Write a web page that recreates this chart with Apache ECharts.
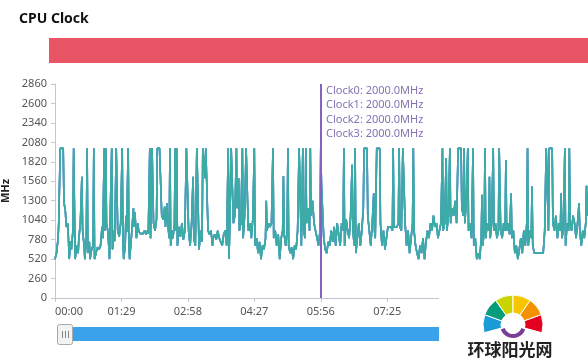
<!DOCTYPE html>
<html>
<head>
<meta charset="utf-8">
<script src="https://cdn.jsdelivr.net/npm/echarts@6/dist/echarts.min.js"></script>
<style>
html,body{margin:0;padding:0;background:#fff;}
#chart{width:588px;height:361px;}
</style>
</head>
<body>
<div id="chart"></div>
<script>
// time in seconds from start
const times = [
0,2,4,5,7,11,12,14,15,17,
18,19,21,22,24,25,27,29,31,32,
34,36,37,39,40,42,43,44,46,47,
49,51,52,53,55,57,59,61,63,64,
66,67,68,69,71,72,73,74,76,77,
79,80,82,84,86,88,90,91,92,94,
95,96,98,99,100,101,103,105,106,107,
109,111,112,114,116,118,120,122,124,125,
127,128,130,131,132,134,136,137,140,142,
143,145,147,148,150,151,153,154,155,157,
158,160,161,162,163,164,166,168,170,172,
174,176,178,179,181,183,185,186,188,190,
192,193,195,197,198,200,201,202,204,205,
207,209,211,212,214,216,218,220,222,224,
226,228,230,232,233,234,236,238,239,241,
243,244,246,247,249,251,252,254,256,258,
259,261,263,265,267,268,270,272,274,276,
278,280,282,283,284,286,288,290,292,293,
295,297,299,301,303,305,306,307,309,311,
312,313,315,317,319,321,323,325,327,329,
330,332,333,335,336,337,339,341,342,343,
345,347,349,351,353,355,356,357,359,360,
362,364,366,368,370,372,374,376,378,380,
382,384,386,387,388,390,392,394,396,398,
399,401,402,403,405,407,409,411,413,414,
416,418,419,421,423,425,427,428,429,431,
433,435,436,438,440,442,444,446,448,450,
452,453,454,456,458,460,461,462,464,466,
468,469,471,473,475,477,479,480,481,483,
485,487,489,491,493,495,497,499,501,503,
505,507,509,511,513,515,517,519,520,522,
524,525,527,529,530,532,534,536,538,540,
542,544,545,547,548,549,551,553,554,556,
558,560,561,563,565,567,569,571,572,573,
575,576,577,579,581,582,583,585,587,588,
590,592,594,595,597,599,601,603,604,605,
607,609,611,612,614,616,618,620,622,624,
626,628,630,632,633,634,636,638,639,640,
642,644,646,648,650,652,654,656,658,660,
661,662,664,666,667,669,671,673,675,677,
678,679,681,683,684,686,688,689,690,692,
694,696,698,700,702,703,705,707,709,711,
712,713
];
// clock frequency in MHz
const clockMHz = [
520,600,780,1000,2000,2000,1280,1150,950,1000,
800,520,760,650,900,2000,520,700,600,800,
1000,1620,900,700,520,800,2000,600,750,520,
650,700,2000,520,600,680,650,700,950,800,
2000,900,2000,1000,880,700,520,1100,2000,650,
900,760,2000,900,820,1000,2000,800,520,700,
1100,880,2000,700,520,650,900,1200,950,1150,
800,1000,900,860,880,860,900,850,900,860,
2000,800,2000,2000,1000,900,1050,2000,2000,2000,
1100,1050,1220,950,1270,1000,800,2000,700,900,
800,1000,2000,900,2000,700,950,820,1000,780,
900,2000,2000,900,700,1000,1620,800,700,2000,
2000,650,900,750,2000,2000,1600,2000,2000,900,
850,900,700,800,850,780,900,800,820,700,
850,900,700,2000,520,900,2000,2000,1000,1100,
2000,1200,1600,900,1000,2000,800,1100,2000,2000,
900,1000,800,1050,2000,700,800,600,750,520,
700,650,800,1300,900,1000,950,1000,2000,800,
900,700,850,520,800,900,1630,850,700,900,
2000,700,600,680,520,700,650,900,2000,2000,
700,2000,900,800,2000,1000,1200,900,2000,1100,
1300,1000,900,800,700,900,2000,1500,1490,800,
650,600,750,700,900,750,950,700,1000,850,
700,1000,900,2000,700,1050,900,800,1100,1780,
900,700,2000,600,800,1000,700,900,1200,2000,
2000,2000,1100,900,700,1000,1400,900,800,2000,
2000,2000,1000,700,900,650,800,950,950,950,
900,2000,950,950,950,1000,2000,950,900,2000,
2000,1000,700,900,600,800,1000,2000,900,700,
600,520,700,600,800,520,750,900,800,1000,
900,1100,950,1000,800,900,1000,2000,900,1000,
1870,900,1100,2000,1000,1200,1100,1300,1000,2000,
2000,2000,1200,1100,2000,1000,1300,2000,900,1000,
800,2000,700,800,520,600,520,800,1380,700,
900,2000,800,1000,900,1620,800,1000,2000,900,
1000,800,900,2000,900,800,1000,900,1840,900,
1000,850,1400,800,900,600,700,520,650,800,
600,900,700,1000,2000,700,900,800,1490,700,
600,600,600,600,600,600,600,900,2000,2000,
900,2000,2000,2000,1000,900,1100,800,1000,900,
1400,800,900,2000,700,1000,900,2000,1000,900,
1100,1000,800,1000,1270,900,700,900,800,1000,
1500,1100
];
const seriesNames = ['Clock0','Clock1','Clock2','Clock3'];
const seriesColors = ['#4b9ad6','#8c6cc7','#47a6c4','#3aaca5'];
const tooltipTime = 356;

const pairs = times.map((t, i) => [t, clockMHz[i]]);
function mmss(v){
  const m = Math.floor(v/60), s = Math.round(v%60);
  return (m<10?'0':'')+m+':'+(s<10?'0':'')+s;
}
const chart = echarts.init(document.getElementById('chart'), null, {renderer:'canvas'});
const labelFont = 'Noto Sans';
const option = {
  animation: false,
  backgroundColor: '#fff',
  title: {
    text: 'CPU Clock', left: 14, top: 7,
    textStyle: {fontFamily: labelFont, fontSize: 14, fontWeight: 'bold', color: '#111'}
  },
  grid: {left: 55, right: 0, top: 84, bottom: 63, containLabel: false, outerBoundsMode: 'none'},
  tooltip: {
    trigger: 'axis',
    alwaysShowContent: true,
    transitionDuration: 0,
    backgroundColor: 'rgba(255,255,255,0.75)',
    borderWidth: 0,
    padding: [2, 3],
    extraCssText: 'box-shadow:none;border-radius:0;line-height:14.3px;',
    textStyle: {fontFamily: labelFont, fontSize: 11, color: '#8672b4'},
    position: function (pt) { return [pt[0] + 2, 81]; },
    axisPointer: {type: 'line', lineStyle: {color: '#8661c1', width: 2, type: 'solid'}},
    formatter: function (params) {
      return params.map(p => p.seriesName + ': ' + p.value[1].toFixed(1) + 'MHz').join('<br/>');
    }
  },
  xAxis: {
    type: 'value', min: 0, max: 714, interval: 89,
    splitLine: {show: false},
    axisLine: {lineStyle: {color: '#c8c2d2'}},
    axisTick: {show: true, length: 4, lineStyle: {color: '#c8c2d2'}},
    axisLabel: {
      formatter: mmss, color: '#555', fontFamily: labelFont, fontSize: 11, margin: 8,
      alignMinLabel: 'left', showMaxLabel: false
    }
  },
  yAxis: {
    type: 'value', min: 0, max: 2860, interval: 260,
    name: 'MHz', nameLocation: 'middle', nameGap: 35,
    nameTextStyle: {fontFamily: labelFont, fontSize: 11, fontWeight: 'bold', color: '#222'},
    splitLine: {show: false},
    axisLine: {show: true, lineStyle: {color: '#c8c2d2'}},
    axisTick: {show: true, length: 4, lineStyle: {color: '#c8c2d2'}},
    axisLabel: {color: '#555', fontFamily: labelFont, fontSize: 11, margin: 8, formatter: v => String(v)}
  },
  dataZoom: [{
    type: 'slider', xAxisIndex: 0, start: 0, end: 100,
    left: 57, right: -20, top: 327, height: 14,
    backgroundColor: 'transparent', borderColor: 'transparent',
    fillerColor: '#3aa2ea',
    dataBackground: {lineStyle: {opacity: 0}, areaStyle: {opacity: 0}},
    selectedDataBackground: {lineStyle: {opacity: 0}, areaStyle: {opacity: 0}},
    handleSize: 0, handleStyle: {opacity: 0},
    moveHandleSize: 0, showDetail: false, brushSelect: false, zoomLock: true
  }],
  series: seriesNames.map((n, i) => ({
    name: n, type: 'line', data: pairs, symbol: 'none', showSymbol: false,
    lineStyle: {width: 1.6, color: seriesColors[i]}, itemStyle: {color: seriesColors[i]},
    emphasis: {disabled: true}
  })),
  graphic: [
    {type: 'rect', left: 49, top: 38, shape: {width: 539, height: 25}, style: {fill: '#ea5566'}, z: 10},
    // slider handle
    {type: 'rect', shape: {x: 57.5, y: 324.5, width: 15, height: 20, r: 2}, style: {fill: '#f2f2f2', stroke: '#a9a9a9', lineWidth: 1}, z: 20},
    {type: 'line', shape: {x1: 62.5, y1: 331, x2: 62.5, y2: 338}, style: {stroke: '#888', lineWidth: 1}, z: 21},
    {type: 'line', shape: {x1: 65.5, y1: 331, x2: 65.5, y2: 338}, style: {stroke: '#888', lineWidth: 1}, z: 21},
    {type: 'line', shape: {x1: 68.5, y1: 331, x2: 68.5, y2: 338}, style: {stroke: '#888', lineWidth: 1}, z: 21},
    // watermark box
    {type: 'rect', shape: {x: 439, y: 280, width: 149, height: 81}, style: {fill: '#fff'}, z: 30},
    {type: 'sector', shape: {cx: 513, cy: 325, r0: 12, r: 30, startAngle: Math.PI*165/180, endAngle: Math.PI*200/180}, style: {fill: '#1b9ad8', stroke: '#fff', lineWidth: 1}, z: 31},
    {type: 'sector', shape: {cx: 513, cy: 325, r0: 12, r: 30, startAngle: Math.PI*200/180, endAngle: Math.PI*235/180}, style: {fill: '#079c7c', stroke: '#fff', lineWidth: 1}, z: 31},
    {type: 'sector', shape: {cx: 513, cy: 325, r0: 12, r: 30, startAngle: Math.PI*235/180, endAngle: Math.PI*270/180}, style: {fill: '#c9d400', stroke: '#fff', lineWidth: 1}, z: 31},
    {type: 'sector', shape: {cx: 513, cy: 325, r0: 12, r: 30, startAngle: Math.PI*270/180, endAngle: Math.PI*305/180}, style: {fill: '#f7c600', stroke: '#fff', lineWidth: 1}, z: 31},
    {type: 'sector', shape: {cx: 513, cy: 325, r0: 12, r: 30, startAngle: Math.PI*305/180, endAngle: Math.PI*340/180}, style: {fill: '#f39200', stroke: '#fff', lineWidth: 1}, z: 31},
    {type: 'sector', shape: {cx: 513, cy: 325, r0: 12, r: 30, startAngle: Math.PI*340/180, endAngle: Math.PI*375/180}, style: {fill: '#e3001f', stroke: '#fff', lineWidth: 1}, z: 31},
    {type: 'sector', shape: {cx: 513, cy: 325, r0: 9, r: 13, startAngle: Math.PI*20/180, endAngle: Math.PI*160/180}, style: {fill: '#7a3e96'}, z: 31},
    {type: 'text', x: 510, y: 350, style: {text: '环球阳光网', fill: '#222', font: 'bold 17px "Noto Sans CJK SC"', align: 'center', verticalAlign: 'middle'}, z: 31}
  ]
};
chart.setOption(option);
const tipIndex = times.indexOf(tooltipTime);
chart.dispatchAction({type: 'showTip', seriesIndex: 3, dataIndex: tipIndex});
</script>
</body>
</html>
